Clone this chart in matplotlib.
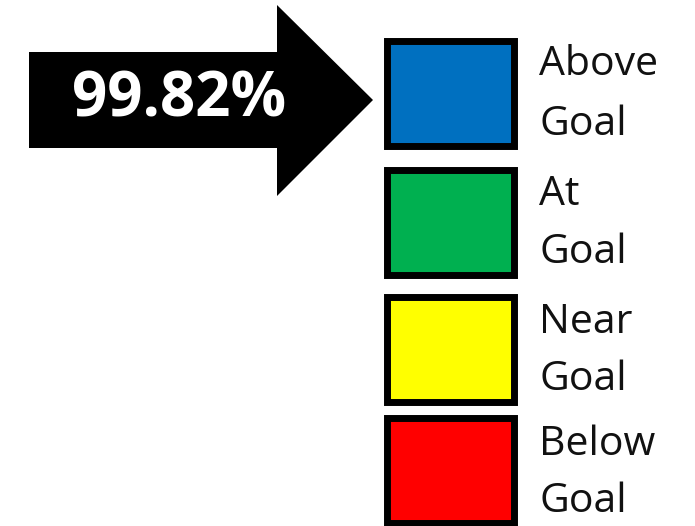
import matplotlib
matplotlib.use('Agg')
import matplotlib.pyplot as plt
from matplotlib.patches import Rectangle, Polygon

# data
percent_value = 99.82
level_labels = ["Above\nGoal", "At\nGoal", "Near\nGoal", "Below\nGoal"]
level_colors = ["#0070C0", "#00B050", "#FFFF00", "#FF0000"]

# layout (pixels, y down)
W, H = 695, 526
box_left, box_right = 386.5, 513.5
box_tops = [40.5, 169.5, 296.5, 417.5]
box_h = 105
label_x = 539
label_baselines = [(75, 135), (205, 263), (333, 390), (455, 512)]

fig = plt.figure(figsize=(W / 100, H / 100), dpi=100)
ax = fig.add_axes([0, 0, 1, 1])
ax.set_xlim(0, W)
ax.set_ylim(H, 0)
ax.axis('off')

# arrow
arrow = Polygon([(29, 52), (277, 52), (277, 5), (373, 100), (277, 196),
                 (277, 148), (29, 148)], closed=True, facecolor='black',
                edgecolor='none')
ax.add_patch(arrow)
ax.text(179, 100, f"{percent_value:.2f}%", color='white', fontsize=44.5,
        fontweight='bold', family='Open Sans', ha='center', va='center')

for top, col, lab, bl in zip(box_tops, level_colors, level_labels, label_baselines):
    ax.add_patch(Rectangle((box_left, top), box_right - box_left, box_h,
                           facecolor=col, edgecolor='black', linewidth=5))
    for line, y in zip(lab.split("\n"), bl):
        ax.text(label_x, y, line, fontsize=29.5, family='Open Sans',
                color='#111111', ha='left', va='baseline')

fig.savefig("out.png", dpi=100)
